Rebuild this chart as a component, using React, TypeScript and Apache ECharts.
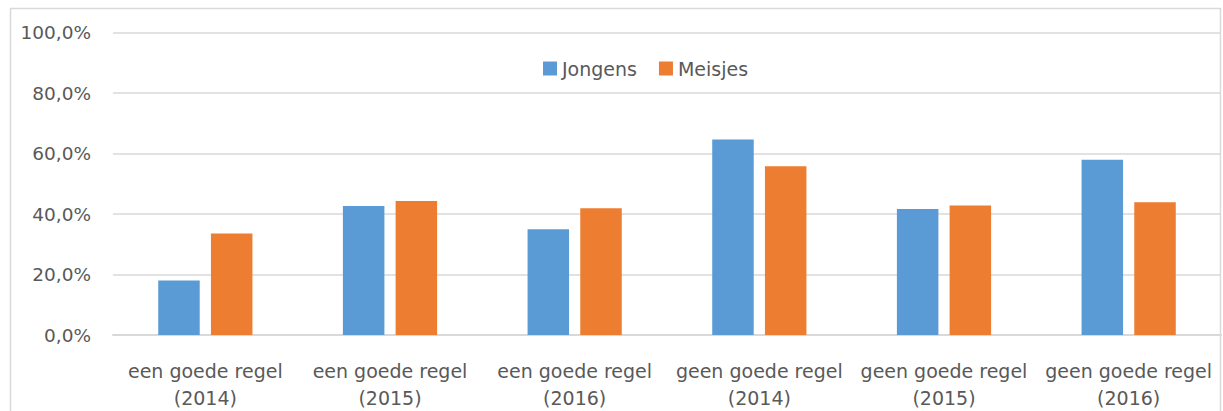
import React, { useEffect, useRef } from "react";
import * as echarts from "echarts";

const categories = [
  "een goede regel\n(2014)",
  "een goede regel\n(2015)",
  "een goede regel\n(2016)",
  "geen goede regel\n(2014)",
  "geen goede regel\n(2015)",
  "geen goede regel\n(2016)",
];
const jongens = [18.0, 42.7, 35.0, 64.7, 41.7, 58.0];
const meisjes = [33.6, 44.3, 41.9, 55.8, 42.8, 43.9];
const yTicks = [0, 20, 40, 60, 80, 100];

const FONT = "DejaVu Sans";
const TEXT = "#595959";
const GRID = "#d9d9d9";

export default function App() {
  const ref = useRef<HTMLDivElement>(null);
  useEffect(() => {
    if (!ref.current) return;
    const chart = echarts.init(ref.current, null, { renderer: "svg" });
    chart.setOption({
      animation: false,
      backgroundColor: "#ffffff",
      textStyle: { fontFamily: FONT },
      graphic: [
        {
          type: "rect",
          shape: { x: 10.5, y: 8.5, width: 1210, height: 420 },
          style: { fill: "none", stroke: GRID, lineWidth: 1.5 },
          silent: true,
        },
      ],
      legend: {
        left: 538,
        top: 54,
        itemWidth: 14,
        itemHeight: 14,
        itemGap: 22,
        icon: "rect",
        textStyle: { fontFamily: FONT, fontSize: 19, color: TEXT },
        data: ["Jongens", "Meisjes"],
      },
      grid: { left: 113, right: 2, top: 32.7, bottom: 74, containLabel: false },
      xAxis: {
        type: "category",
        data: categories,
        axisLine: { show: true, lineStyle: { color: GRID, width: 2 } },
        axisTick: { show: false },
        axisLabel: {
          interval: 0,
          margin: 22,
          fontFamily: FONT,
          fontSize: 19,
          lineHeight: 27,
          color: TEXT,
        },
      },
      yAxis: {
        type: "value",
        min: yTicks[0],
        max: yTicks[yTicks.length - 1],
        interval: 20,
        axisLine: { show: false },
        axisTick: { show: false },
        splitLine: { lineStyle: { color: GRID, width: 1.5 } },
        axisLabel: {
          margin: 22,
          fontFamily: FONT,
          fontSize: 18.5,
          color: TEXT,
          formatter: (v: number) => v.toFixed(1).replace(".", ",") + "%",
        },
      },
      series: [
        {
          name: "Jongens",
          type: "bar",
          data: jongens,
          barWidth: 41.5,
          barGap: "27%",
          itemStyle: { color: "#5B9BD5" },
        },
        {
          name: "Meisjes",
          type: "bar",
          data: meisjes,
          barWidth: 41.5,
          itemStyle: { color: "#ED7D31" },
        },
      ],
    });
    return () => chart.dispose();
  }, []);
  return (
    <div
      ref={ref}
      style={{ position: "absolute", left: 0, top: 0, width: 1223, height: 411 }}
    />
  );
}
